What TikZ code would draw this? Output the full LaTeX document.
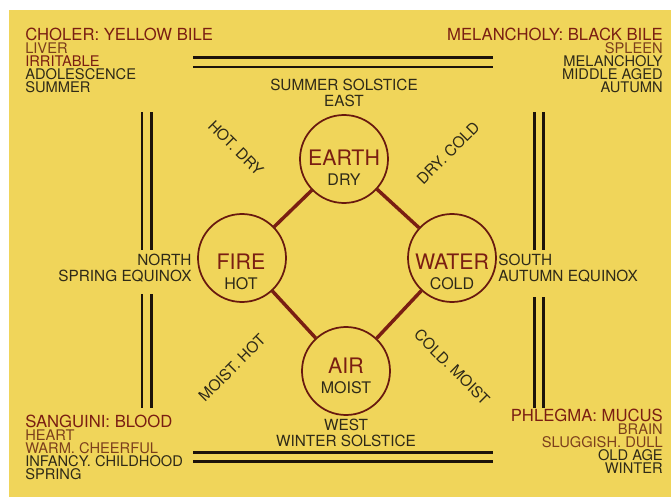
\documentclass[tikz,border=0pt]{standalone}
\usepackage{fontspec}
\setmainfont{TeX Gyre Heros}
\usetikzlibrary{positioning}
\definecolor{parchment}{HTML}{F0D55A}
\definecolor{humourred}{HTML}{7A1E12}
\definecolor{sepia}{HTML}{7C3F1C}
\definecolor{inkdark}{HTML}{2F2A18}
\definecolor{ruleink}{HTML}{1C130B}
\newcommand{\humhead}[1]{{\fontsize{12.5}{13}\selectfont\color{humourred}#1}}
\newcommand{\qualtext}[1]{{\fontsize{12}{12}\selectfont\color{inkdark}#1}}

\begin{document}
\begin{tikzpicture}[x=0.75pt, y=-0.75pt,
  element/.style={circle, draw=humourred!85!black, line width=1.3pt, minimum size=66pt, inner sep=0pt},
  elname/.style={align=center, inner sep=0pt, text=humourred, font=\fontsize{16}{15}\selectfont},
  link/.style={draw=humourred, line width=2.6pt},
  quarter/.style={inner sep=0pt, text=inkdark, font=\fontsize{11.5}{12}\selectfont},
  pair/.style={inner sep=0pt, text=inkdark, font=\fontsize{11.5}{12}\selectfont},
  humour/.style={inner sep=0pt, text=inkdark, font=\fontsize{11}{9.75}\selectfont},
  dblrule/.style={draw=ruleink, line width=2.2pt, double=parchment, double distance=4.6pt}
]
  \useasboundingbox (0,0) rectangle (671,503);
  \fill[parchment] (9,10) rectangle (671,497);

  % the four elements
  \node[element] (earth) at (344,159) {};
  \node[element] (fire) at (242,258) {};
  \node[element] (water) at (452,258) {};
  \node[element] (air) at (346,371) {};
  \node[elname] (earthtxt) at (344,168) {EARTH\\\qualtext{DRY}};
  \node[elname] (firetxt) at (241,272) {FIRE\\\qualtext{HOT}};
  \node[elname] (watertxt) at (452,272) {WATER\\\qualtext{COLD}};
  \node[elname] (airtxt) at (346,376) {AIR\\\qualtext{MOIST}};

  \draw[link] (earth) -- (fire);
  \draw[link] (earth) -- (water);
  \draw[link] (fire) -- (air);
  \draw[link] (water) -- (air);

  % qualities between the elements
  \node[pair, rotate=-45] (hotdry) at (236,148) {HOT. DRY};
  \node[pair, rotate=45] (drycold) at (448,153) {DRY. COLD};
  \node[pair, rotate=45] (moisthot) at (232,368) {MOIST. HOT};
  \node[pair, rotate=-45] (coldmoist) at (452,367) {COLD. MOIST};

  % quarters
  \node[quarter, align=center, above=5pt of earth] (summer) {SUMMER SOLSTICE\\EAST};
  \node[quarter, align=center, below=2pt of air] (winter) {WEST\\WINTER SOLSTICE};
  \node[quarter, align=right, left=4pt of fire, yshift=-8pt] (spring) {NORTH\\SPRING EQUINOX};
  \node[quarter, align=left, right=1pt of water, yshift=-8pt] (autumn) {SOUTH\\AUTUMN EQUINOX};

  % the four humours
  \node[humour, align=left, anchor=north west] (choler) at (25,28)
    {\humhead{CHOLER: YELLOW BILE}\\\textcolor{sepia}{LIVER}\\\textcolor{humourred}{IRRITABLE}\\ADOLESCENCE\\SUMMER};
  \node[humour, align=right, anchor=north east] (melancholy) at (663,28)
    {\humhead{MELANCHOLY: BLACK BILE}\\\textcolor{sepia}{SPLEEN}\\MELANCHOLY\\MIDDLE AGED\\AUTUMN};
  \node[humour, align=left, anchor=north west] (sanguine) at (25,415)
    {\humhead{SANGUINI: BLOOD}\\\textcolor{sepia}{HEART}\\\textcolor{sepia}{WARM. CHEERFUL}\\INFANCY. CHILDHOOD\\SPRING};
  \node[humour, align=right, anchor=north east] (phlegm) at (663,409)
    {\humhead{PHLEGMA: MUCUS}\\\textcolor{sepia}{BRAIN}\\\textcolor{sepia}{SLUGGISH. DULL}\\OLD AGE\\WINTER};

  % frame of double rules
  \draw[dblrule] (193,62.5) -- (493,62.5);
  \draw[dblrule] (193,457) -- (493,457);
  \draw[dblrule] (146.5,112) -- (146.5,250);
  \draw[dblrule] (146.5,294) -- (146.5,408);
  \draw[dblrule] (539,112) -- (539,250);
  \draw[dblrule] (539,297) -- (539,408);
\end{tikzpicture}
\end{document}
